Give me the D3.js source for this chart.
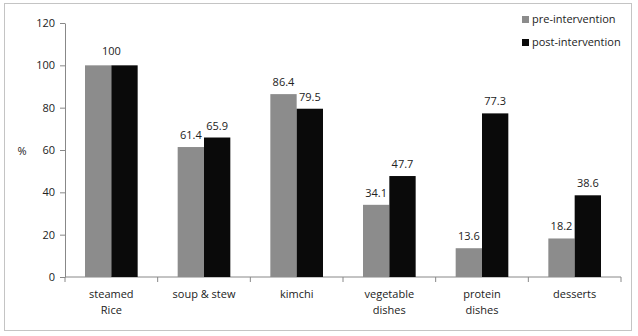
<!DOCTYPE html>
<html><head><meta charset="utf-8">
<script src="https://cdn.jsdelivr.net/npm/d3@7"></script>
<style>body{margin:0;background:#fff}svg{display:block}text{font-family:"Open Sans",sans-serif}</style>
</head><body><svg id="c" width="638" height="336"></svg>
<script>
const categories = ["steamed\nRice","soup & stew","kimchi","vegetable\ndishes","protein\ndishes","desserts"];
const seriesNames = ["pre-intervention","post-intervention"];
const preValues = [100,61.4,86.4,34.1,13.6,18.2];
const postValues = [100,65.9,79.5,47.7,77.3,38.6];
const yTicks = [0,20,40,60,80,100,120];
const colors = ["#8c8c8c","#0a0a0a"];

const svg = d3.select("#c");
svg.append("rect").attr("x",4.5).attr("y",3.5).attr("width",627).attr("height",327)
  .attr("fill","#fff").attr("stroke","#c4c4c4");

const x0 = d3.scaleBand().domain(d3.range(categories.length)).range([65,621]).paddingInner(0).paddingOuter(0);
const x1 = d3.scaleBand().domain([0,1]).range([0,x0.bandwidth()]).paddingInner(0).paddingOuter(0.76);
const y = d3.scaleLinear().domain([0,120]).range([277,23]);

// y axis
const ya = svg.append("g").attr("transform","translate(65,0)")
  .call(d3.axisLeft(y).tickValues(yTicks).tickSize(5).tickSizeOuter(0));
ya.select(".domain").attr("stroke","#888");
ya.selectAll(".tick line").attr("stroke","#888");
ya.selectAll(".tick text").attr("font-size",11).attr("fill","#222").attr("x",-10);

// x axis
const xa = svg.append("g").attr("transform","translate(0,277)");
xa.append("line").attr("x1",65).attr("x2",621).attr("stroke","#888");
xa.selectAll(".t").data(d3.range(categories.length+1)).join("line")
  .attr("x1",d=>d<categories.length?x0(d):x0.range()[1])
  .attr("x2",d=>d<categories.length?x0(d):x0.range()[1])
  .attr("y1",0).attr("y2",5).attr("stroke","#888");

const rows = categories.map((c,i)=>({i,vals:[preValues[i],postValues[i]]}));
const g = svg.append("g");
const grp = g.selectAll("g").data(rows).join("g").attr("transform",d=>`translate(${x0(d.i)},0)`);
grp.selectAll("rect").data(d=>d.vals.map((v,k)=>({v,k}))).join("rect")
  .attr("x",d=>x1(d.k)).attr("width",x1.bandwidth())
  .attr("y",d=>y(d.v)).attr("height",d=>y(0)-y(d.v)).attr("fill",d=>colors[d.k]);

// value labels
grp.each(function(d){
  const s = d3.select(this);
  if(d.vals[0]===d.vals[1]){
    s.append("text").attr("x",x0.bandwidth()/2).attr("y",y(d.vals[0])-10)
      .attr("text-anchor","middle").attr("font-size",11).attr("fill","#222").text(d3.format("")(d.vals[0]));
  } else {
    d.vals.forEach((v,k)=>{
      s.append("text").attr("x",x1(k)+x1.bandwidth()/2).attr("y",y(v)-8)
        .attr("text-anchor","middle").attr("font-size",11).attr("fill","#222").text(v);
    });
  }
});

// category labels
categories.forEach((c,i)=>{
  const t = svg.append("text").attr("x",x0(i)+x0.bandwidth()/2).attr("y",298)
    .attr("text-anchor","middle").attr("font-size",11).attr("fill","#222");
  c.split("\n").forEach((ln,j)=>t.append("tspan").attr("x",x0(i)+x0.bandwidth()/2).attr("dy",j?16:0).text(ln));
});

// % label
svg.append("text").attr("x",22).attr("y",155).attr("font-size",11).attr("fill","#222").attr("text-anchor","middle").text("%");

// legend
seriesNames.forEach((n,k)=>{
  svg.append("rect").attr("x",522).attr("y",16+k*23).attr("width",7).attr("height",7).attr("fill",colors[k]);
  svg.append("text").attr("x",532).attr("y",23+k*23).attr("font-size",11).attr("fill","#222").text(n);
});
</script></body></html>
